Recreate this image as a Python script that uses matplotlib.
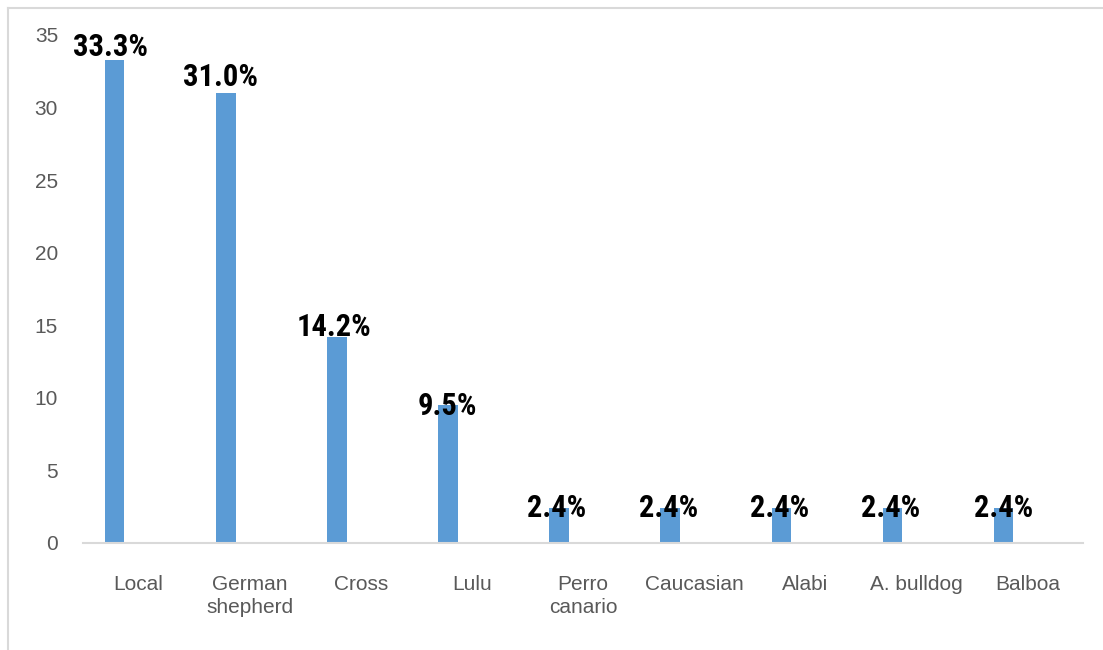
import matplotlib
matplotlib.use("Agg")
import matplotlib.pyplot as plt
from matplotlib.lines import Line2D
import numpy as np

categories = ["Local", "German\nshepherd", "Cross", "Lulu", "Perro\ncanario",
              "Caucasian", "Alabi", "A. bulldog", "Balboa"]
values = [33.3, 31.0, 14.2, 9.5, 2.4, 2.4, 2.4, 2.4, 2.4]
value_labels = ["33.3%", "31.0%", "14.2%", "9.5%", "2.4%", "2.4%", "2.4%", "2.4%", "2.4%"]
yticks = [0, 5, 10, 15, 20, 25, 30, 35]

# styling: label offsets (pixels, relative to bar top centre)
label_dy = [13, 16, 10, -1, 0, 0, 0, 0, 0]
label_dx = [-4, -5, -3, -1, -2, -2, -2, -2, 0]

W, H = 1103, 650
fig = plt.figure(figsize=(W / 100, H / 100), dpi=100)
ax = fig.add_axes([83 / W, 1 - 543 / H, (1083 - 83) / W, (543 - 35) / H])

x = np.arange(len(categories))
bar_off = -0.215
ax.bar(x + bar_off, values, width=0.175, color="#5B9BD5", zorder=2)

tick_font = ["Liberation Sans", "DejaVu Sans"]
label_font = ["Roboto Condensed", "Barlow Semi Condensed", "Liberation Sans", "DejaVu Sans"]

ax.set_xlim(-0.5, len(categories) - 0.5)
ax.set_ylim(0, 35)
ax.set_yticks(yticks)
ax.set_yticklabels([str(t) for t in yticks], fontsize=15, color="#595959", family=tick_font)
ax.set_xticks(x)
ax.set_xticklabels(categories, fontsize=15, color="#595959", linespacing=1.3, family=tick_font)
ax.tick_params(axis="y", length=0, pad=18)
ax.tick_params(axis="x", length=0, pad=23)

for s in ["top", "right", "left"]:
    ax.spines[s].set_visible(False)
ax.spines["bottom"].set_color("#d9d9d9")
ax.spines["bottom"].set_linewidth(1.5)

for i, (v, lab) in enumerate(zip(values, value_labels)):
    ax.annotate(lab, xy=(x[i] + bar_off, v), xytext=(label_dx[i], label_dy[i]),
                textcoords="offset pixels", ha="center", va="center",
                fontsize=22, fontweight="bold", color="black",
                family=label_font, zorder=3)

# chart area border (left and top visible)
fig.add_artist(Line2D([8 / W, 8 / W], [0, 1 - 8 / H], transform=fig.transFigure,
                      color="#d9d9d9", lw=1.5))
fig.add_artist(Line2D([8 / W, 1], [1 - 8 / H, 1 - 8 / H], transform=fig.transFigure,
                      color="#d9d9d9", lw=1.5))

fig.savefig("out.png", dpi=100)
